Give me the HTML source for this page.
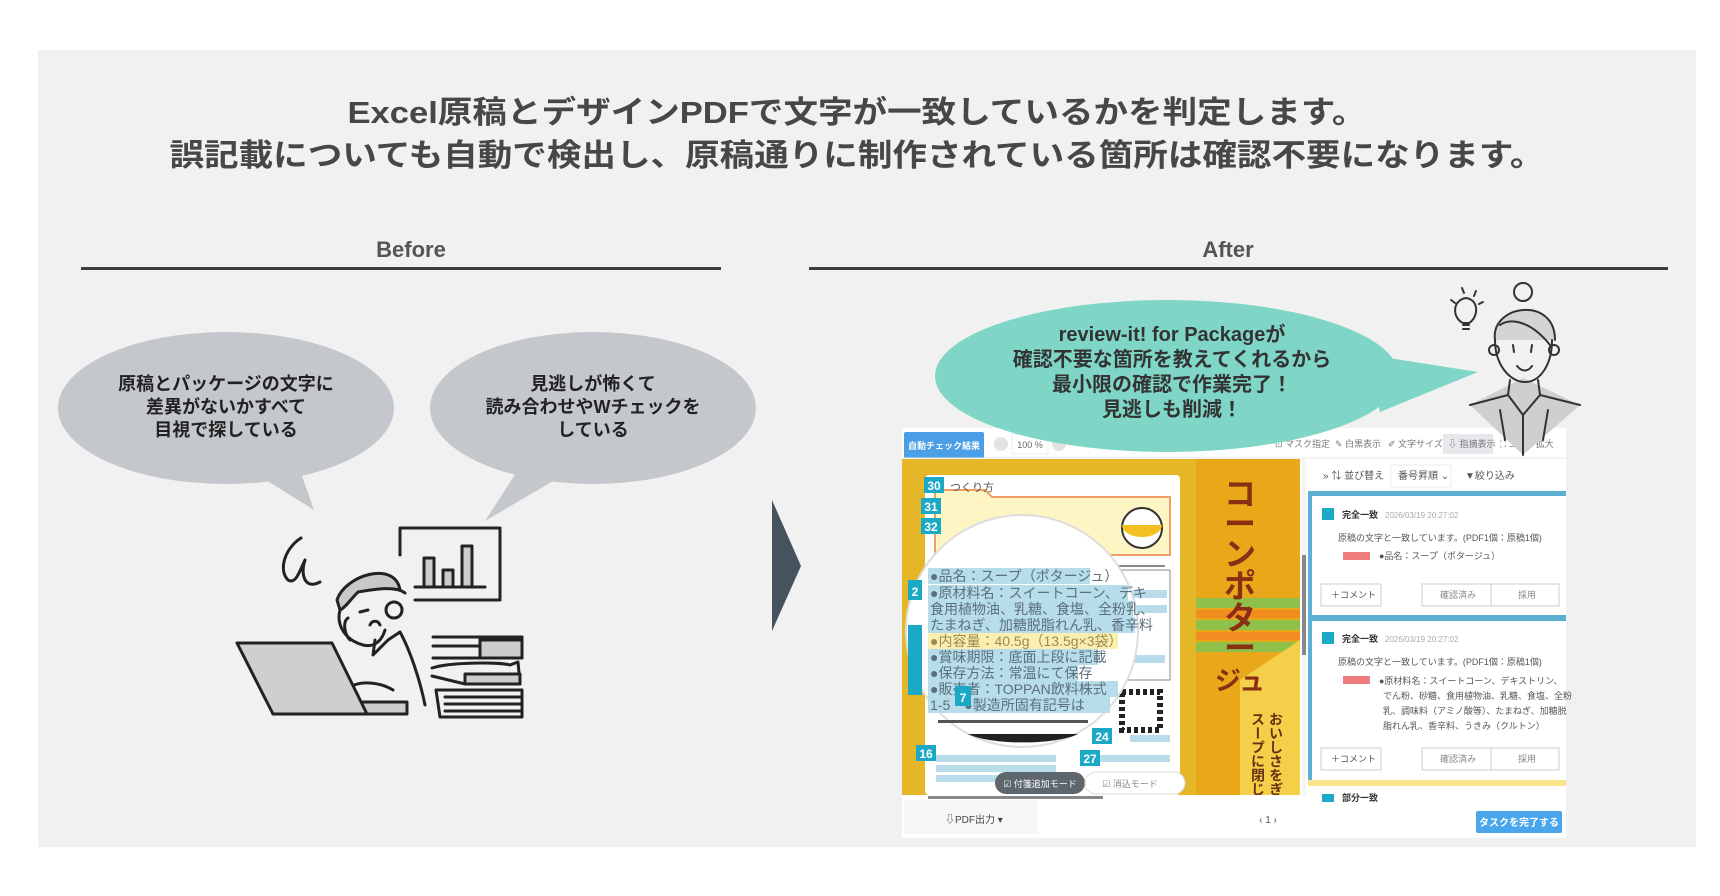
<!DOCTYPE html>
<html><head><meta charset="utf-8">
<style>
html,body{margin:0;padding:0;background:#fff;}
svg{display:block;font-family:"Liberation Sans","Noto Sans CJK JP",sans-serif;}
</style></head>
<body>
<svg width="1720" height="896" viewBox="0 0 1720 896" xmlns="http://www.w3.org/2000/svg">
<defs><clipPath id="pdfclip"><rect x="902" y="459" width="398" height="336"/></clipPath></defs>
<rect x="0" y="0" width="1720" height="896" fill="#fff"/>
<rect x="38" y="50" width="1658" height="797" fill="#f1f1f1"/>

<!-- Title -->
<g fill="#474747" font-weight="bold" font-size="31" text-anchor="middle">
<text x="857" y="123" textLength="1019" lengthAdjust="spacingAndGlyphs">Excel原稿とデザインPDFで文字が一致しているかを判定します。</text>
<text x="857" y="166" textLength="1375" lengthAdjust="spacingAndGlyphs">誤記載についても自動で検出し、原稿通りに制作されている箇所は確認不要になります。</text>
</g>

<!-- headers -->
<g fill="#555" font-weight="bold" font-size="22" text-anchor="middle">
<text x="411" y="257">Before</text>
<text x="1228" y="257">After</text>
</g>
<rect x="81" y="267" width="640" height="3" fill="#3e3e3e"/>
<rect x="809" y="267" width="859" height="3" fill="#3e3e3e"/>

<!-- Before bubbles -->
<g fill="#c4c7cc">
<ellipse cx="226" cy="408" rx="168" ry="76"/>
<polygon points="250,470 300,470 314,510"/>
<ellipse cx="593" cy="408" rx="163" ry="76"/>
<polygon points="518,470 572,470 485,521"/>
</g>
<g fill="#222" font-weight="bold" font-size="18" text-anchor="middle">
<text x="226" y="390">原稿とパッケージの文字に</text>
<text x="226" y="413">差異がないかすべて</text>
<text x="226" y="436">目視で探している</text>
<text x="593" y="390">見逃しが怖くて</text>
<text x="593" y="413">読み合わせやWチェックを</text>
<text x="593" y="436">している</text>
</g>

<!-- Man illustration -->
<g stroke="#222" stroke-width="3" fill="none" stroke-linecap="round" stroke-linejoin="round">
<path d="M400,555 L400,528 L500,528 L500,600 L415,600"/>
<path d="M415,587 L485,587"/>
<rect x="424" y="558" width="10" height="29" fill="#ccc"/>
<rect x="443" y="570" width="10" height="17" fill="#ccc"/>
<rect x="462" y="546" width="10" height="41" fill="#ccc"/>
<path d="M301,538 C285,548 278,570 288,580 C296,585 300,570 305,560 C300,575 305,590 320,582"/>
<path d="M337,600 C345,575 395,560 400,590 L405,593 C395,585 370,590 358,592 C350,600 345,608 340,610 Z" fill="#c8c8c8"/>
<path d="M340,610 C336,625 345,640 363,645 C375,648 382,640 385,630"/>
<circle cx="394" cy="610" r="8"/>
<path d="M348,618 C342,622 345,635 350,640"/>
<path d="M360,612 L368,610"/>
<path d="M370,625 C372,620 378,620 380,625"/>
<path d="M375,640 L373,655 L388,640 L400,632 C410,650 420,680 425,705"/>
<path d="M348,688 C360,680 380,682 393,690"/>
<rect x="273" y="702" width="134" height="12" fill="#ccc"/>
<polygon points="237,643 332,643 367,714 273,714" fill="#cfcfcf"/>
<path d="M433,637 L522,637 L522,658 L433,658 M433,646 L480,646 M480,637 L480,658"/>
<rect x="480" y="640" width="42" height="18" fill="#ccc"/>
<path d="M432,668 C450,662 500,662 510,665 L518,662 L520,684 L465,684 L432,676"/>
<rect x="465" y="674" width="55" height="10" fill="#ccc"/>
<path d="M436,690 L522,690 L522,717 L440,717 Z M445,697 L520,697 M445,704 L520,704 M445,711 L520,711"/>
</g>

<!-- Arrow -->
<polygon points="772,500 801,566 772,631" fill="#46535e"/>

<!-- Screenshot -->
<rect x="902" y="428" width="664" height="410" fill="#fff"/>
<rect x="904" y="432" width="80" height="26" fill="#4b9fe6" rx="2"/>
<text x="944" y="449" fill="#fff" font-size="9" font-weight="bold" text-anchor="middle">自動チェック結果</text>
<circle cx="1001" cy="444" r="7" fill="#e3e3e3"/>
<rect x="1012" y="434" width="36" height="20" fill="#fff" stroke="#eee"/>
<text x="1030" y="448" font-size="9" fill="#666" text-anchor="middle">100 %</text>
<circle cx="1059" cy="444" r="7" fill="#e3e3e3"/>
<g fill="#777" font-size="9">
<text x="1275" y="447">⊡ マスク指定</text>
<text x="1335" y="447">✎ 白黒表示</text>
<text x="1388" y="447">✐ 文字サイズ</text>
<rect x="1443" y="434" width="50" height="20" fill="#e6e8ec"/>
<text x="1448" y="447">⇩ 指摘表示</text>
<text x="1500" y="447">⛶ エリア拡大</text>
</g>
<g fill="#555"><circle cx="1158" cy="444" r="5"/></g>
<line x1="902" y1="458" x2="1566" y2="458" stroke="#e8e8e8"/>

<!-- PDF area -->
<rect x="902" y="459" width="398" height="336" fill="#e4b628"/>
<rect x="925" y="475" width="255" height="320" fill="#fff" rx="4"/>
<path d="M935,490 L985,490 L992,497 L1170,497 L1170,555 L935,555 Z" fill="#fdf5c4" stroke="#f0a060" stroke-width="2"/>
<circle cx="1142" cy="528" r="20" fill="#fff" stroke="#333" stroke-width="2"/>
<path d="M1122,525 A20,12 0 0 0 1162,525" fill="#f2c020"/>
<rect x="935" y="565" width="230" height="2" fill="#888"/>
<rect x="1110" y="570" width="60" height="110" fill="#fff" stroke="#888"/>
<g fill="#b9dcea"><rect x="1112" y="590" width="55" height="8"/><rect x="1112" y="605" width="55" height="8"/><rect x="1115" y="655" width="50" height="8"/><rect x="1130" y="735" width="40" height="7"/><rect x="1100" y="755" width="70" height="7"/><rect x="936" y="755" width="120" height="7"/><rect x="936" y="765" width="120" height="7"/><rect x="936" y="775" width="120" height="7"/></g>
<rect x="1122" y="692" width="38" height="38" fill="#fff" stroke="#222" stroke-width="6" stroke-dasharray="4 3"/>
<!-- right package strip -->
<rect x="1196" y="459" width="104" height="336" fill="#e9a81a"/>
<rect x="1196" y="598" width="104" height="10" fill="#8fc04a"/>
<rect x="1196" y="610" width="104" height="8" fill="#f08c20"/>
<rect x="1196" y="620" width="104" height="10" fill="#8fc04a"/>
<rect x="1196" y="632" width="104" height="8" fill="#f08c20"/>
<rect x="1196" y="642" width="104" height="10" fill="#8fc04a"/>
<path d="M1240,680 L1300,640 L1300,795 L1240,795 Z" fill="#f3cf4a"/>
<g fill="#8a2e14" font-weight="bold" font-size="32" text-anchor="middle">
<text x="1240" y="505">コ</text><text x="1240" y="535">ー</text><text x="1240" y="565">ン</text><text x="1240" y="597">ポ</text><text x="1240" y="629">タ</text><text x="1240" y="659">ー</text><text x="1240" y="690" font-size="26">ジュ</text>
</g>
<g fill="#6a2e10" font-weight="bold" font-size="14" text-anchor="start" clip-path="url(#pdfclip)">
<text x="1276" y="712" writing-mode="tb">おいしさをぎゅっと</text>
<text x="1258" y="712" writing-mode="tb">スープに閉じ込め</text>
</g>
<rect x="1302" y="459" width="4" height="336" fill="#f5f5f5"/>
<rect x="1302" y="555" width="4" height="100" fill="#888"/>
<!-- magnifier -->
<circle cx="1022" cy="631" r="116" fill="#fff" stroke="#ddd" stroke-width="2"/>
<g font-size="14" fill="#5b6f7c">
<rect x="928" y="568" width="162" height="16" fill="#b7dcea"/><text x="930" y="581">●品名：スープ（ポタージュ）</text>
<rect x="928" y="585" width="200" height="16" fill="#b7dcea"/><text x="930" y="598">●原材料名：スイートコーン、デキ</text>
<rect x="928" y="601" width="205" height="16" fill="#b7dcea"/><text x="930" y="614">食用植物油、乳糖、食塩、全粉乳、</text>
<rect x="928" y="617" width="207" height="16" fill="#b7dcea"/><text x="930" y="630">たまねぎ、加糖脱脂れん乳、香辛料</text>
<rect x="928" y="633" width="190" height="16" fill="#fbefb0"/><text x="930" y="646" fill="#9a8a50">●内容量：40.5g（13.5g×3袋）</text>
<rect x="928" y="649" width="170" height="16" fill="#b7dcea"/><text x="930" y="662">●賞味期限：底面上段に記載</text>
<rect x="928" y="665" width="150" height="16" fill="#b7dcea"/><text x="930" y="678">●保存方法：常温にて保存</text>
<rect x="928" y="681" width="190" height="16" fill="#b7dcea"/><text x="930" y="694">●販売者：TOPPAN飲料株式</text>
<rect x="928" y="697" width="182" height="16" fill="#b7dcea"/><text x="930" y="710">1-5　●製造所固有記号は</text>
</g>
<rect x="938" y="720" width="150" height="3" fill="#555"/>
<path d="M968,734 A60,14 0 0 0 1078,734 Z" fill="#222"/>
<!-- badges -->
<g fill="#1ba9c6">
<rect x="924" y="477" width="20" height="16"/><rect x="921" y="498" width="20" height="16"/><rect x="921" y="518" width="20" height="16"/>
<rect x="908" y="580" width="14" height="20"/><rect x="908" y="625" width="14" height="70"/>
<rect x="955" y="686" width="16" height="20"/><rect x="916" y="745" width="20" height="16"/>
<rect x="1092" y="728" width="20" height="16"/><rect x="1080" y="750" width="20" height="16"/>
</g>
<g fill="#fff" font-weight="bold" font-size="12" text-anchor="middle">
<text x="934" y="490">30</text><text x="931" y="511">31</text><text x="931" y="531">32</text>
<text x="915" y="596">2</text><text x="963" y="702">7</text><text x="926" y="758">16</text>
<text x="1102" y="741">24</text><text x="1090" y="763">27</text>
</g>
<text x="950" y="491" font-size="11" fill="#555">つくり方</text>
<!-- mode bar -->
<rect x="995" y="772" width="90" height="22" rx="11" fill="#5d656d"/>
<text x="1040" y="787" fill="#fff" font-size="9" text-anchor="middle">☑ 付箋追加モード</text>
<rect x="1085" y="772" width="100" height="22" rx="11" fill="#fff" stroke="#ddd"/>
<text x="1130" y="787" fill="#888" font-size="9" text-anchor="middle">☑ 消込モード</text>
<rect x="928" y="796" width="175" height="3" fill="#888"/>
<!-- bottom bar -->
<rect x="904" y="800" width="134" height="34" fill="#f7f7f7"/>
<text x="945" y="823" font-size="10" fill="#444">⇩PDF出力 ▾</text>
<text x="1268" y="823" font-size="10" fill="#555" text-anchor="middle">‹  1  ›</text>
<rect x="1476" y="811" width="86" height="22" rx="2" fill="#4aa6ec"/>
<text x="1519" y="826" font-size="10" fill="#fff" font-weight="bold" text-anchor="middle">タスクを完了する</text>

<!-- right panel -->
<g font-size="10" fill="#555">
<text x="1323" y="479">»  ⇅ 並び替え</text>
<rect x="1391" y="465" width="60" height="22" fill="#fff" stroke="#eee"/>
<text x="1398" y="479">番号昇順 ⌄</text>
<text x="1465" y="479">▼絞り込み</text>
</g>
<rect x="1308" y="491" width="258" height="5" fill="#5eb0d2"/>
<rect x="1308" y="491" width="4" height="290" fill="#5eb0d2"/>
<rect x="1308" y="615" width="258" height="6" fill="#5eb0d2"/>
<rect x="1308" y="780" width="258" height="6" fill="#fbe58a"/>
<g font-size="9" fill="#555">
<rect x="1322" y="508" width="12" height="12" fill="#1ba9c6"/>
<text x="1342" y="518" font-weight="bold" fill="#333">完全一致</text><text x="1385" y="518" fill="#aaa" font-size="8">2026/03/19 20:27:02</text>
<text x="1338" y="541">原稿の文字と一致しています。(PDF1個：原稿1個)</text>
<rect x="1343" y="552" width="27" height="8" fill="#ef7d7d"/>
<text x="1379" y="559">●品名：スープ（ポタージュ）</text>
<rect x="1321" y="584" width="60" height="22" fill="#fff" stroke="#ccc"/><text x="1331" y="598">＋コメント</text>
<rect x="1422" y="584" width="137" height="22" fill="#fff" stroke="#ccc"/><line x1="1491" y1="584" x2="1491" y2="606" stroke="#ccc"/>
<text x="1440" y="598" fill="#888">確認済み</text><text x="1518" y="598" fill="#888">採用</text>
<rect x="1322" y="632" width="12" height="12" fill="#1ba9c6"/>
<text x="1342" y="642" font-weight="bold" fill="#333">完全一致</text><text x="1385" y="642" fill="#aaa" font-size="8">2026/03/19 20:27:02</text>
<text x="1338" y="665">原稿の文字と一致しています。(PDF1個：原稿1個)</text>
<rect x="1343" y="676" width="27" height="8" fill="#ef7d7d"/>
<text x="1379" y="684">●原材料名：スイートコーン、デキストリン、</text>
<text x="1383" y="699">でん粉、砂糖、食用植物油、乳糖、食塩、全粉</text>
<text x="1383" y="714">乳、調味料（アミノ酸等）、たまねぎ、加糖脱</text>
<text x="1383" y="729">脂れん乳、香辛料、うきみ（クルトン）</text>
<rect x="1321" y="748" width="60" height="22" fill="#fff" stroke="#ccc"/><text x="1331" y="762">＋コメント</text>
<rect x="1422" y="748" width="137" height="22" fill="#fff" stroke="#ccc"/><line x1="1491" y1="748" x2="1491" y2="770" stroke="#ccc"/>
<text x="1440" y="762" fill="#888">確認済み</text><text x="1518" y="762" fill="#888">採用</text>
<rect x="1322" y="794" width="12" height="8" fill="#1ba9c6"/>
<text x="1342" y="801" font-weight="bold" fill="#333">部分一致</text>
</g>

<!-- Teal bubble -->
<g fill="#7fd6c6">
<ellipse cx="1167" cy="376" rx="232" ry="76"/>
<polygon points="1370,355 1380,412 1478,372"/>
</g>
<g fill="#333" font-weight="bold" font-size="20" text-anchor="middle">
<text x="1172" y="341">review-it! for Packageが</text>
<text x="1172" y="366">確認不要な箇所を教えてくれるから</text>
<text x="1172" y="391">最小限の確認で作業完了！</text>
<text x="1172" y="416">見逃しも削減！</text>
</g>

<!-- Woman -->
<g stroke="#333" stroke-width="2" fill="none" stroke-linecap="round" stroke-linejoin="round">
<path d="M1451,300 L1455,303 M1462,288 L1464,293 M1476,291 L1474,296 M1483,302 L1479,304"/>
<path d="M1463,323 C1452,318 1452,300 1466,298 C1480,300 1478,318 1469,323 Z M1463,325 L1469,325 M1463,329 L1469,329"/>
<polygon points="1470,405 1523,378 1580,405 1523,455" fill="#cfcfcf" stroke="none"/>
<circle cx="1523" cy="292" r="9"/>
<path d="M1495,340 C1490,305 1555,295 1555,340" fill="#d4d4d4"/>
<path d="M1495,340 C1495,365 1510,382 1525,382 C1540,382 1552,365 1552,340"/>
<path d="M1500,325 C1510,318 1530,320 1550,345"/>
<circle cx="1494" cy="350" r="5"/><circle cx="1554" cy="350" r="5"/>
<path d="M1513,345 L1514,352 M1532,345 L1531,352 M1517,366 C1522,372 1528,372 1532,366"/>
<path d="M1510,380 L1508,395 L1523,415 L1540,395 L1538,380"/>
<path d="M1508,395 L1470,405 M1540,395 L1580,405 M1523,415 L1523,455 M1500,410 L1505,440 M1548,410 L1543,440"/>
</g>
</svg>
</body></html>
